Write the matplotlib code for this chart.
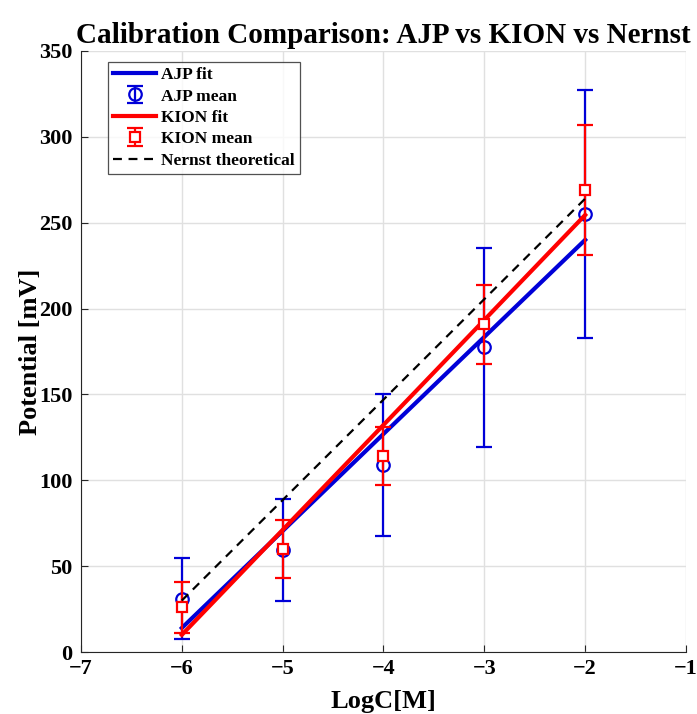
import matplotlib
matplotlib.use("Agg")
import matplotlib.pyplot as plt
import numpy as np

plt.rcParams['font.family'] = ['Liberation Serif', 'DejaVu Serif']
plt.rcParams['font.weight'] = 'bold'
plt.rcParams['axes.labelweight'] = 'bold'
plt.rcParams['axes.titleweight'] = 'bold'

# concentrations (log10 M)
log_c = [-6, -5, -4, -3, -2]

# AJP means and standard deviations (mV)
ajp_mean = [31, 59.5, 109, 177.5, 255]
ajp_sd = [23.5, 29.5, 41.5, 58, 72]

# KION means and standard deviations (mV)
kion_mean = [26, 60, 114, 191, 269]
kion_sd = [15, 17, 17, 23, 38]

# fitted lines, evaluated at the ends of the range
fit_x = [-6, -2]
ajp_fit = [14, 240]
kion_fit = [10, 254.5]

# Nernst theoretical line
nernst_y = [30, 88.5, 147, 205.5, 264]

blue = '#0000d8'
red = '#ff0000'

fig = plt.figure(figsize=(6.97, 7.14), dpi=100)
ax = fig.add_axes([0.1162, 0.0868, 0.868, 0.8418])

h1, = ax.plot(fit_x, ajp_fit, color=blue, lw=3, label='AJP fit', zorder=3)
h2 = ax.errorbar(log_c, ajp_mean, yerr=ajp_sd, fmt='o', color=blue, mfc='none',
                 mec=blue, ms=9, mew=1.6, elinewidth=1.6, capsize=6, capthick=1.6,
                 label='AJP mean', zorder=2)
h3, = ax.plot(fit_x, kion_fit, color=red, lw=3, label='KION fit', zorder=4)
h4 = ax.errorbar(log_c, kion_mean, yerr=kion_sd, fmt='s', color=red, mfc='white',
                 mec=red, ms=7.5, mew=1.6, elinewidth=1.6, capsize=6, capthick=1.6,
                 label='KION mean', zorder=5)
h5, = ax.plot(log_c, nernst_y, 'k--', lw=1.6, dashes=(4, 3),
              label='Nernst theoretical', zorder=6)

ax.set_xlim(-7, -1)
ax.set_ylim(0, 350)
ax.set_xticks(np.arange(-7, 0, 1))
ax.set_yticks(np.arange(0, 351, 50))
ax.grid(True, color='#e0e0e0', lw=1)
ax.set_axisbelow(True)

for s in ['top', 'right']:
    ax.spines[s].set_visible(False)
for s in ['left', 'bottom']:
    ax.spines[s].set_color('#262626')
ax.tick_params(direction='in', length=5, labelsize=16, color='#262626')
ax.tick_params(axis='x', pad=5)
ax.tick_params(axis='y', pad=6)

ax.set_title('Calibration Comparison: AJP vs KION vs Nernst', fontsize=21, pad=6)
ax.set_xlabel('LogC[M]', fontsize=19, labelpad=8)
ax.set_ylabel('Potential [mV]', fontsize=19, labelpad=-2)

leg = ax.legend([h1, h2, h3, h4, h5],
                ['AJP fit', 'AJP mean', 'KION fit', 'KION mean', 'Nernst theoretical'],
                loc='upper left', bbox_to_anchor=(0.044, 0.982), fontsize=12.5,
                frameon=True, fancybox=False, edgecolor='#262626',
                handlelength=2.5, handletextpad=0.3, labelspacing=0.3,
                borderpad=0.3, borderaxespad=0)
leg.get_frame().set_linewidth(0.9)

fig.savefig('out.png', dpi=100)
